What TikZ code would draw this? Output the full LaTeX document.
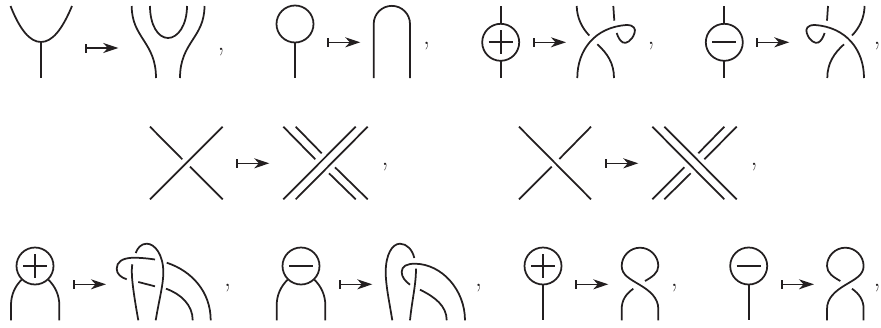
\documentclass[tikz,border=0pt]{standalone}
\usetikzlibrary{arrows.meta}
\definecolor{ink}{HTML}{231F20}
\newcommand{\mapsarrow}[2]{\draw[maparrow] (#1,#2) -- ++(33.3,0);}
\newcommand{\cmark}[2]{\node[commatext] (c#1x#2) at (#1,#2+2) {,};}
\newcommand{\plusvertex}[2]{\draw[strand] (#1,#2) circle[radius=18.5];
 \draw[strand] (#1-12,#2) -- (#1+12,#2) (#1,#2-12) -- (#1,#2+12);}
\newcommand{\minusvertex}[2]{\draw[strand] (#1,#2) circle[radius=18.5];
 \draw[strand] (#1-12,#2) -- (#1+12,#2);}
\newcommand{\twistA}{%
 \draw[strand] (577.3,78) .. controls (577.3,50) and (595,27) .. (626.7,25) .. controls (634,25) and (636,29) .. (634.5,33) .. controls (632,41) and (626,44) .. (623,42.5) .. controls (620,41) and (618,37) .. (616.7,33);
 \draw[strand] (576.7,6) .. controls (577,18) and (582,28) .. (589.3,35.5);
 \draw[strand] (597.3,44.3) .. controls (607,53) and (614,63) .. (614,78);
 \draw[strand] (613.3,6) -- (614.3,20.7);}
\newcommand{\figureeight}{%
 \draw[strand] (658.3,320.3) -- (658.3,309) .. controls (658.3,298) and (650,291) .. (640,285) .. controls (630,279) and (621.7,275) .. (621.7,266) .. controls (621.7,256) and (630,247.7) .. (640,247.7) .. controls (650,247.7) and (658.3,256) .. (658.3,266) .. controls (658.3,273) and (652,277) .. (645,281);
 \draw[strand] (633.3,288.7) .. controls (626,294) and (621.7,300) .. (621.7,309) -- (621.7,320.3);}
\tikzset{
 x=1pt,y=-1pt,
 strand/.style={line width=1.75pt,draw=ink},
 maparrow/.style={line width=1.6pt,draw=ink,{Bar[width=9pt,line width=1.8pt]}-{Stealth[length=15pt,width=10pt,inset=4.5pt,fill=ink]}},
 commatext/.style={anchor=base,inner sep=0pt,text=ink,font=\fontsize{28}{28}\selectfont},
}
\begin{document}
\begin{tikzpicture}
\useasboundingbox (0,0) rectangle (881,327);
% ---- row 1
\draw[strand] (10.5,6) .. controls (20,30) and (30,42) .. (41,42) .. controls (52,42) and (62,30) .. (72,6);
\draw[strand] (41,42) -- (41,78);
\mapsarrow{85}{48}
\draw[strand] (131.7,6) .. controls (131.7,38) and (156,42) .. (156,78);
\draw[strand] (204.5,6) .. controls (204.5,38) and (180,42) .. (180,78);
\draw[strand] (150,6) .. controls (150,25) and (158,38) .. (168,38) .. controls (178,38) and (187,25) .. (187,6);
\cmark{221}{48}
\draw[strand] (295,24) circle[radius=18.5];
\draw[strand] (295,42.5) -- (295,78);
\mapsarrow{327}{42.3}
\draw[strand] (373.7,78) -- (373.7,24) arc[start angle=180,end angle=360,radius=18.15] -- (410,78);
\cmark{426.7}{42.3}
\plusvertex{500.7}{42.3}
\draw[strand] (500.7,6) -- (500.7,23.8) (500.7,60.8) -- (500.7,78);
\mapsarrow{532.7}{42.3}
\twistA
\cmark{651}{42.3}
\minusvertex{724.3}{42.3}
\draw[strand] (724.3,6) -- (724.3,23.8) (724.3,60.8) -- (724.3,78);
\mapsarrow{756}{42.3}
\begin{scope}[shift={(1441.3,0)},xscale=-1]
\twistA
\end{scope}
\cmark{877}{42.3}
% ---- row 2
\draw[strand] (150,199.3) -- (222.7,126.7);
\draw[strand] (150,126.7) -- (182.3,159.3) (190,166.7) -- (222.7,199.3);
\mapsarrow{236}{163.3}
\draw[strand] (283.3,199.3) -- (355.7,126.7) (295.7,199.3) -- (367.7,126.7);
\draw[strand] (283.3,126.7) -- (315.3,159.3) (295.7,126.7) -- (321.7,153.3);
\draw[strand] (329,173.3) -- (355.7,199.3) (335,167.3) -- (367.7,199.3);
\cmark{385}{163.3}
\draw[strand] (519,126.7) -- (591,199.3);
\draw[strand] (591,126.7) -- (559.3,159) (551.7,166.7) -- (519,199.3);
\mapsarrow{605}{163.3}
\draw[strand] (652.3,126.7) -- (724.3,199.3) (664.3,126.7) -- (736.7,199.3);
\draw[strand] (724.3,126.7) -- (698.3,153.3) (736.7,126.7) -- (704.3,159.3);
\draw[strand] (684.3,167.3) -- (652.3,199.3) (690.7,173.3) -- (664.3,199.3);
\cmark{754}{163.3}
% ---- row 3
\plusvertex{35}{266}
\draw[strand] (11,320.3) -- (11,305) .. controls (11,295) and (15,286) .. (21.7,279.7);
\draw[strand] (59.3,320.3) -- (59.3,305) .. controls (59.3,295) and (55,286) .. (48.3,279.7);
\mapsarrow{72.7}{284.3}
\draw[strand] (155.7,320.3) .. controls (160,295) and (163.3,285) .. (163.3,272) .. controls (163.3,255) and (155,243.7) .. (146.7,243.7) .. controls (141,243.7) and (137.5,248) .. (135.7,253);
\draw[strand] (155,259.5) .. controls (145,258) and (138,257.7) .. (133.3,257.7) .. controls (122,258) and (116.7,262) .. (116.7,268.7) .. controls (116.7,274) and (121,277.5) .. (126.7,279.3);
\draw[strand] (132.3,264.3) .. controls (131,272) and (132,285) .. (138.3,320.3);
\draw[strand] (138.3,282) -- (155,286.3);
\draw[strand] (166,288.7) .. controls (181,294) and (192.7,305) .. (192.7,320.3);
\draw[strand] (166.7,262.7) .. controls (192,271) and (210.7,292) .. (210.7,320.3);
\cmark{227.7}{284.3}
\minusvertex{301}{266}
\draw[strand] (276.7,320.3) -- (276.7,305) .. controls (276.7,295) and (281,286) .. (287.7,279.7);
\draw[strand] (325.3,320.3) -- (325.3,305) .. controls (325.3,295) and (321,286) .. (314.3,279.7);
\mapsarrow{339}{284.3}
\draw[strand] (392.3,320.3) .. controls (389,300) and (385.7,285) .. (385.7,272) .. controls (385.7,255) and (392,243.7) .. (400,243.7) .. controls (407,243.7) and (412.5,250) .. (414.3,258);
\draw[strand] (410,284.7) .. controls (405,281) and (401.7,277) .. (401.7,272) .. controls (401.7,266) and (407,263.7) .. (415,263.7) .. controls (442,264) and (465,290) .. (465,320.3);
\draw[strand] (416,268.7) .. controls (416,285) and (412,300) .. (410,320.3);
\draw[strand] (420,289.7) .. controls (435,297) and (446.7,306) .. (446.7,320.3);
\cmark{478.5}{284.3}
\plusvertex{543}{266}
\draw[strand] (543,284.5) -- (543,320.3);
\mapsarrow{575}{284.3}
\figureeight
\cmark{674.3}{284.3}
\minusvertex{748.7}{266}
\draw[strand] (748.7,284.5) -- (748.7,320.3);
\mapsarrow{780.7}{284.3}
\begin{scope}[shift={(1485.3,0)},xscale=-1]
\figureeight
\end{scope}
\cmark{877}{284.3}
\end{tikzpicture}
\end{document}
